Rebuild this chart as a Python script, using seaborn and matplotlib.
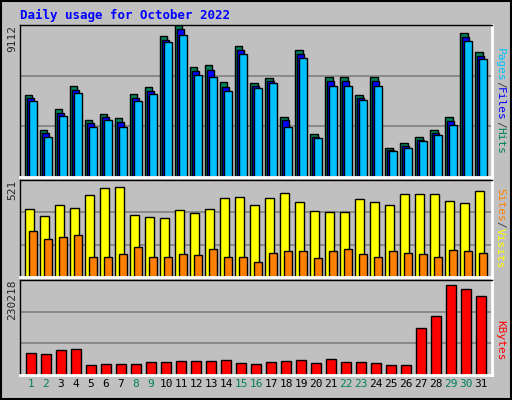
import matplotlib
matplotlib.use("Agg")
import matplotlib.pyplot as plt
import seaborn as sns
import numpy as np
import pandas as pd

days = list(range(1, 32))
weekend = [1, 2, 8, 9, 15, 16, 22, 23, 29, 30]
hits = [4920, 2820, 4080, 5460, 3420, 3780, 3540, 4980, 5400, 8460, 9100, 6600, 6720, 5700, 7860, 5640,
        5940, 3600, 7620, 2580, 6000, 6000, 4920, 6000, 1740, 2040, 2400, 2820, 3600, 8640, 7500]
files = [4740, 2640, 3840, 5220, 3240, 3600, 3300, 4740, 5160, 8220, 8880, 6360, 6420, 5400, 7620, 5460,
         5760, 3420, 7380, 2400, 5760, 5760, 4740, 5760, 1620, 1860, 2220, 2640, 3360, 8400, 7260]
pages = [4560, 2400, 3660, 5040, 3000, 3420, 3000, 4560, 4980, 8100, 8520, 6120, 6000, 5160, 7380, 5340,
         5640, 3000, 7140, 2340, 5460, 5460, 4620, 5460, 1560, 1740, 2160, 2520, 3120, 8160, 7080]
visits = [363, 326, 389, 373, 442, 479, 484, 331, 321, 316, 358, 342, 363, 426, 431, 389,
          426, 452, 405, 352, 347, 347, 421, 405, 389, 447, 447, 447, 410, 400, 463]
sites = [247, 205, 216, 226, 110, 110, 126, 163, 105, 105, 121, 116, 153, 105, 110, 79,
         131, 137, 142, 100, 142, 153, 121, 110, 137, 131, 121, 110, 147, 137, 131]
kbytes = [54500, 49800, 61600, 64000, 23700, 26000, 26000, 26000, 30800, 30800, 33200, 33200, 33200, 35500, 28400, 26000,
          30800, 33200, 35500, 28400, 37900, 30800, 30800, 28400, 23700, 23700, 113800, 142200, 218000, 208600, 192000]
max_hits, max_visits, max_kb = 9112, 521, 230218

sns.set_style("white")
BG = "#c0c0c0"
fig = plt.figure(figsize=(5.12, 4.0), dpi=100, facecolor=BG)
W, H = 512, 400
def axes(top, bottom):
    return fig.add_axes([20 / W, 1 - bottom / H, 472 / W, (bottom - top) / H], facecolor=BG)

x = np.array(days, dtype=float)
ax1 = axes(25, 177)
ax2 = axes(180, 277)
ax3 = axes(280, 375)
ec = dict(edgecolor="black", linewidth=1)
ax1.bar(x - 0.4, hits, width=0.5, align="edge", color="#00805c", **ec)
ax1.bar(x - 0.27, files, width=0.5, align="edge", color="#0000ff", **ec)
ax1.bar(x - 0.13, pages, width=0.55, align="edge", color="#00c0ff", **ec)
ax2.bar(x - 0.4, visits, width=0.6, align="edge", color="#ffff00", **ec)
ax2.bar(x - 0.13, sites, width=0.55, align="edge", color="#ff8000", **ec)
df = pd.DataFrame({"day": x, "kb": kbytes})
sns.barplot(data=df, x="day", y="kb", native_scale=True, color="#ff0000", width=0.65,
            saturation=1, edgecolor="black", linewidth=1, ax=ax3)

for ax, m in [(ax1, max_hits), (ax2, max_visits), (ax3, max_kb)]:
    top = m * 1.0
    ax.set_xlim(0.27, 31.73)
    ax.set_ylim(0, top)
    for g in (top / 3, 2 * top / 3):
        ax.axhline(g, color="#808080", lw=1.2, zorder=0)
    ax.set_yticks([top])
    ax.set_yticklabels([str(m)], rotation=90, va="top", fontsize=8, family="DejaVu Sans Mono")
    ax.tick_params(axis="y", length=0, pad=2)
    ax.set_xticks([])
    ax.set_xlabel(""); ax.set_ylabel("")
    for s in ax.spines.values():
        s.set_color("black"); s.set_linewidth(1)
    ax.spines["bottom"].set_color("white"); ax.spines["right"].set_color("white")
    ax.spines["bottom"].set_linewidth(2); ax.spines["right"].set_linewidth(2)

ax3.set_xticks(days)
ax3.set_xticklabels([str(d) for d in days], fontsize=8, family="DejaVu Sans Mono")
for lab, d in zip(ax3.get_xticklabels(), days):
    lab.set_color("#00805c" if d in weekend else "black")
ax3.tick_params(axis="x", length=0, pad=3)

fig.text(20 / W, 1 - 15 / H, "Daily usage for October 2022", color="#0000ff", fontsize=9,
         fontweight="bold", family="DejaVu Sans Mono", va="center")

def side(parts, ycenter):
    total = sum(len(t) for t, _ in parts)
    ch = 6.6
    y = ycenter - total * ch / 2
    for t, c in parts:
        fig.text(500 / W, 1 - (y + len(t) * ch / 2) / H, t, color=c, rotation=270, ha="center",
                 va="center", fontsize=8, family="DejaVu Sans Mono")
        y += len(t) * ch
side([("Pages", "#00c0ff"), ("/", "#404040"), ("Files", "#0000ff"), ("/", "#404040"), ("Hits", "#00805c")], 101)
side([("Sites", "#ff8000"), ("/", "#404040"), ("Visits", "#ffff00")], 228)
side([("KBytes", "#ff0000")], 340)

fig.patches.append(plt.Rectangle((1 / W, 1 / H), 1 - 2 / W, 1 - 2 / H, transform=fig.transFigure,
                                 fill=False, edgecolor="black", lw=1.5))
fig.savefig("out.png", dpi=100, facecolor=BG)
